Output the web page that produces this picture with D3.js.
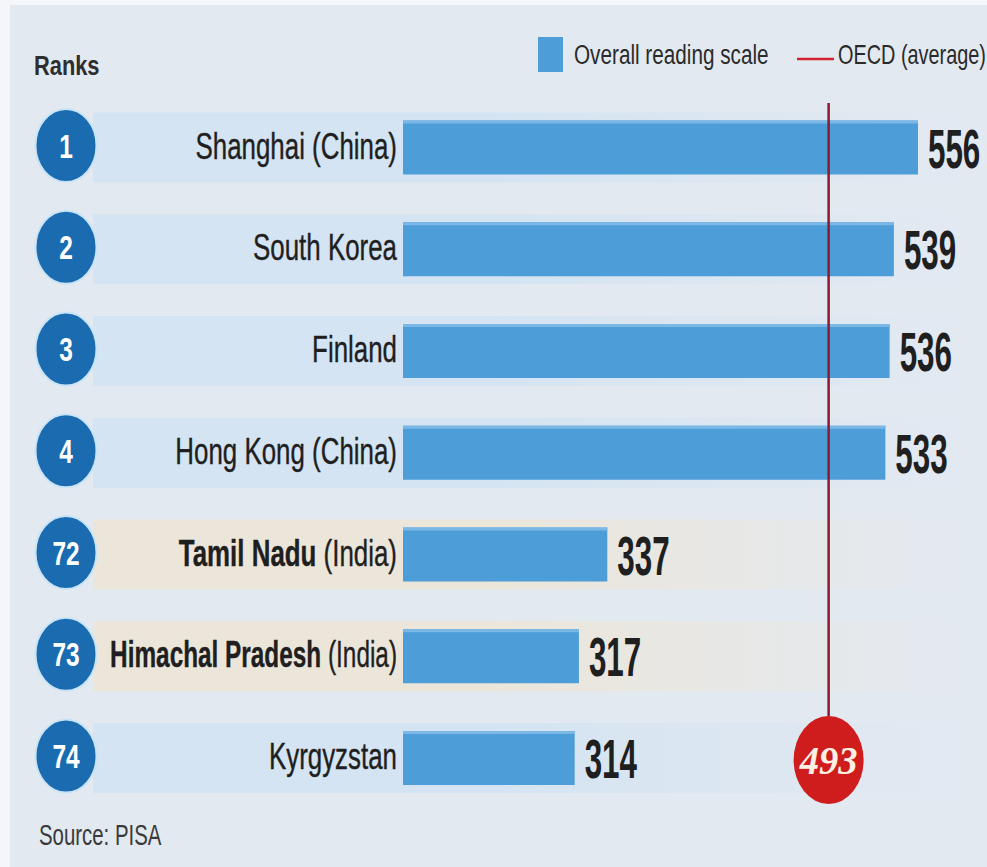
<!DOCTYPE html>
<html>
<head>
<meta charset="utf-8">
<script src="https://cdn.jsdelivr.net/npm/d3@7"></script>
<style>
  html, body { margin: 0; padding: 0; background: #f4f6f9; }
  svg { display: block; }
</style>
</head>
<body>
<div id="wrapper"></div>
<script>
// chart data
const ranks = [1, 2, 3, 4, 72, 73, 74]
const places = ['Shanghai', 'South Korea', 'Finland', 'Hong Kong', 'Tamil Nadu', 'Himachal Pradesh', 'Kyrgyzstan']
const suffixes = [' (China)', '', '', ' (China)', ' (India)', ' (India)', '']
const isIndia = [false, false, false, false, true, true, false]
const scores = [556, 539, 536, 533, 337, 317, 314]
const oecdAverage = 493
const legendLabels = ['Overall reading scale', 'OECD (average)']

function drawChart() {
  const rows = ranks.map((r, i) => ({
    rank: r,
    place: places[i],
    suffix: suffixes[i],
    india: isIndia[i],
    score: scores[i],
  }))

  const dimensions = {
    width: 987,
    height: 867,
  }

  const bg = '#e3e9f1'
  const barColor = '#4d9dd9'
  const font = "'Liberation Sans', Arial, sans-serif"

  const svg = d3.select('#wrapper')
    .append('svg')
    .attr('width', dimensions.width)
    .attr('height', dimensions.height)

  const defs = svg.append('defs')
  const addGrad = (id, c) => {
    const g = defs.append('linearGradient').attr('id', id)
    g.append('stop').attr('offset', '0%').attr('stop-color', c)
    g.append('stop').attr('offset', '45%').attr('stop-color', c)
    g.append('stop').attr('offset', '100%').attr('stop-color', bg)
  }
  addGrad('bandBlue', '#d4e4f2')
  addGrad('bandBeige', '#ece6da')

  // panel
  svg.append('rect')
    .attr('x', 10).attr('y', 5)
    .attr('width', dimensions.width - 10)
    .attr('height', dimensions.height - 5)
    .attr('fill', bg)

  // scales: bars are cut, they begin at ~193 points
  const xScale = d3.scaleLinear()
    .domain([193, 556])
    .range([403, 918])

  const yScale = d3.scalePoint()
    .domain(ranks)
    .range([147.5, 758])

  const barHeight = 54

  // squeezes a text horizontally, like the narrow face of the original
  const squeeze = (sel, x, y, sx) => sel
    .attr('transform', `translate(${x},${y}) scale(${sx},1)`)

  const rowGroups = svg.append('g')
    .selectAll('g')
    .data(rows)
    .join('g')

  // row bands
  rowGroups.append('rect')
    .attr('x', 93)
    .attr('y', d => yScale(d.rank) - 35)
    .attr('width', 872)
    .attr('height', 70)
    .attr('fill', d => d.india ? 'url(#bandBeige)' : 'url(#bandBlue)')

  // bars
  rowGroups.append('rect')
    .attr('x', xScale.range()[0])
    .attr('y', d => yScale(d.rank) - barHeight / 2)
    .attr('width', d => xScale(d.score) - xScale.range()[0])
    .attr('height', barHeight)
    .attr('fill', barColor)

  rowGroups.append('rect')
    .attr('x', xScale.range()[0])
    .attr('y', d => yScale(d.rank) - barHeight / 2)
    .attr('width', d => xScale(d.score) - xScale.range()[0])
    .attr('height', 3)
    .attr('fill', '#7bb8e6')

  // rank circles
  rowGroups.append('ellipse')
    .attr('cx', 66)
    .attr('cy', d => yScale(d.rank) - 2)
    .attr('rx', 30.5)
    .attr('ry', 36.5)
    .attr('fill', '#1a6bb0')
    .attr('stroke', '#c9e4f7')
    .attr('stroke-width', 2)

  rowGroups.append('text')
    .text(d => d.rank)
    .attr('text-anchor', 'middle')
    .attr('fill', 'white')
    .style('font-family', font)
    .style('font-weight', 'bold')
    .style('font-size', '34px')
    .each(function (d) {
      squeeze(d3.select(this), 66, yScale(d.rank) + 10, 0.72)
    })

  // place labels, fitted into the space between circle and bar
  const labels = rowGroups.append('text')
    .attr('text-anchor', 'end')
    .attr('fill', '#1f1f1f')
    .attr('stroke', '#1f1f1f')
    .attr('stroke-width', 0.4)
    .style('font-family', font)
    .style('font-size', '37px')

  labels.append('tspan')
    .text(d => d.place)
    .style('font-weight', d => d.india ? 'bold' : 'normal')
  labels.append('tspan')
    .text(d => d.suffix)

  labels.each(function (d) {
    const len = this.getComputedTextLength()
    const sx = Math.min(0.7, 287 / len)
    squeeze(d3.select(this), 397, yScale(d.rank) + 11, sx)
  })

  // values
  rowGroups.append('text')
    .text(d => d.score)
    .attr('fill', '#1f1f1f')
    .style('font-family', font)
    .style('font-weight', 'bold')
    .style('font-size', '56px')
    .each(function (d) {
      squeeze(d3.select(this), xScale(d.score) + 10, yScale(d.rank) + 20, 0.56)
    })

  // OECD average line and marker
  const oecdX = xScale(oecdAverage)
  const markerY = 760

  svg.append('line')
    .attr('x1', oecdX).attr('x2', oecdX)
    .attr('y1', 103).attr('y2', markerY - 44)
    .attr('stroke', '#8c1b30')
    .attr('stroke-width', 2.5)

  svg.append('ellipse')
    .attr('cx', oecdX).attr('cy', markerY)
    .attr('rx', 35).attr('ry', 44)
    .attr('fill', '#cf1d1d')

  svg.append('text')
    .text(oecdAverage)
    .attr('text-anchor', 'middle')
    .attr('fill', '#fdf0e2')
    .style('font-family', "'Liberation Serif', 'Times New Roman', serif")
    .style('font-weight', 'bold')
    .style('font-style', 'italic')
    .style('font-size', '41px')
    .call(squeeze, oecdX, markerY + 14, 0.94)

  // header
  svg.append('text')
    .text('Ranks')
    .attr('fill', '#2e2e2e')
    .style('font-family', font)
    .style('font-weight', 'bold')
    .style('font-size', '28px')
    .call(squeeze, 34, 75, 0.78)

  // legend
  svg.append('rect')
    .attr('x', 538).attr('y', 37)
    .attr('width', 25).attr('height', 35)
    .attr('fill', barColor)

  svg.append('text')
    .text(legendLabels[0])
    .attr('fill', '#2a2a2a')
    .style('font-family', font)
    .style('font-size', '28px')
    .call(squeeze, 574, 64, 0.74)

  svg.append('line')
    .attr('x1', 797).attr('x2', 834)
    .attr('y1', 59).attr('y2', 59)
    .attr('stroke', '#d3232f')
    .attr('stroke-width', 2.5)

  svg.append('text')
    .text(legendLabels[1])
    .attr('fill', '#2a2a2a')
    .style('font-family', font)
    .style('font-size', '28px')
    .call(squeeze, 838, 64, 0.71)

  // source
  svg.append('text')
    .text('Source: PISA')
    .attr('fill', '#3a3a3a')
    .style('font-family', font)
    .style('font-size', '30px')
    .call(squeeze, 39, 845, 0.68)
}

drawChart()
</script>
</body>
</html>
